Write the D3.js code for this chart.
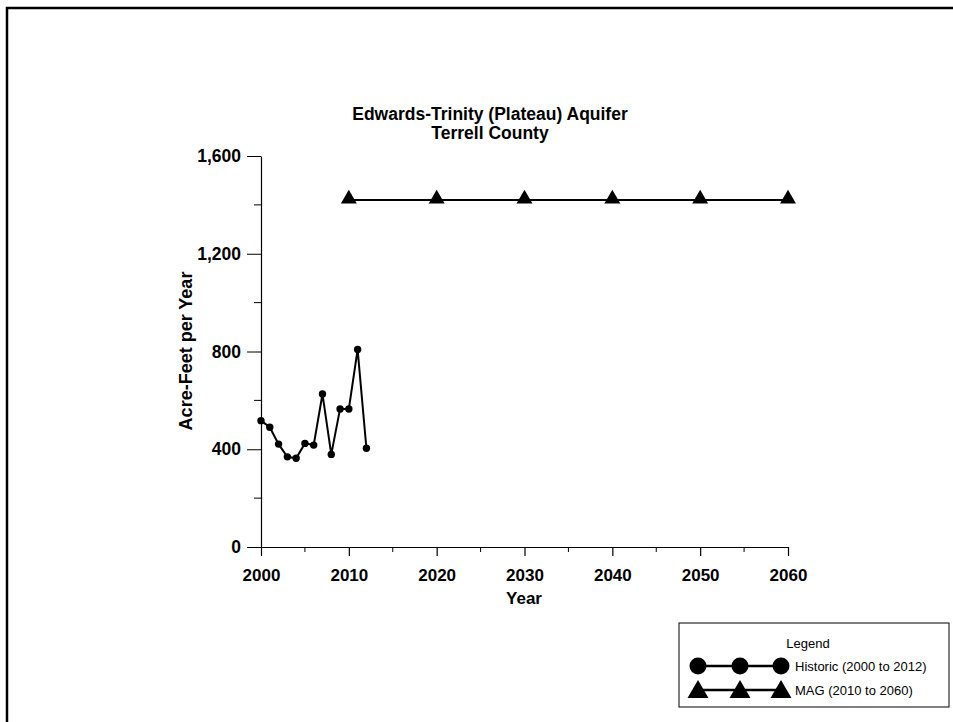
<!DOCTYPE html>
<html><head><meta charset="utf-8">
<script src="https://cdn.jsdelivr.net/npm/d3@7"></script>
<style>html,body{margin:0;background:#fff;overflow:hidden;} svg{display:block;}</style>
</head><body>
<script>
const histYears = [2000,2001,2002,2003,2004,2005,2006,2007,2008,2009,2010,2011,2012];
const histValues = [517,490,421,369,363,424,417,626,379,565,565,808,404];
const magYears = [2010,2020,2030,2040,2050,2060];
const magValues = [1420,1420,1420,1420,1420,1420];
const xTicks = [2000,2010,2020,2030,2040,2050,2060];
const xMinorTicks = [2005,2015,2025,2035,2045,2055];
const yTicks = [0,400,800,1200,1600];
const yMinorTicks = [200,600,1000,1400];
const titleLines = ["Edwards-Trinity (Plateau) Aquifer","Terrell County"];
const legendItems = ["Historic (2000 to 2012)","MAG (2010 to 2060)"];

const W=953,H=722;
const svg=d3.select("body").append("svg").attr("width",W).attr("height",H);
// outer frame: only top and left edges are visible in the window
svg.append("path").attr("d",`M7,${H+5}V8H${W+5}`)
  .attr("fill","none").attr("stroke","#000").attr("stroke-width",2.5);

const font="Liberation Sans, Arial, sans-serif";
const x=d3.scaleLinear().domain([2000,2060]).range([261,788]);
const y=d3.scaleLinear().domain([0,1600]).range([547,156]);

// title (one text element, two lines)
const tt=svg.append("text").attr("text-anchor","middle")
  .attr("font-family",font).attr("font-weight","bold").attr("font-size",17.5);
tt.selectAll("tspan").data(titleLines).join("tspan")
  .attr("x",490).attr("y",(d,i)=>119.5+i*19.5).text(d=>d);

// x axis
const gx=svg.append("g").attr("transform",`translate(0,${y(0)})`);
gx.call(d3.axisBottom(x).tickValues(xTicks).tickFormat(d3.format("d")).tickSize(9).tickSizeOuter(0));
gx.append("g").selectAll("line").data(xMinorTicks).join("line")
  .attr("x1",d=>x(d)).attr("x2",d=>x(d)).attr("y1",0).attr("y2",5).attr("stroke","#000");
gx.select(".domain").attr("stroke-width",1.2);
gx.selectAll(".tick line").attr("stroke-width",1.2);
gx.selectAll(".tick text").attr("font-family",font).attr("font-weight","bold").attr("font-size",17)
  .attr("y",0).attr("dy",0).attr("transform","translate(0,34)");

// y axis
const gy=svg.append("g").attr("transform",`translate(${x(2000)},0)`);
gy.call(d3.axisLeft(y).tickValues(yTicks).tickFormat(d3.format(",")).tickSize(14).tickSizeOuter(0));
gy.append("g").selectAll("line").data(yMinorTicks).join("line")
  .attr("x1",-7).attr("x2",0).attr("y1",d=>y(d)).attr("y2",d=>y(d)).attr("stroke","#000");
gy.select(".domain").attr("stroke-width",1.2);
gy.selectAll(".tick text").attr("font-family",font).attr("font-weight","bold").attr("font-size",17.5).attr("x",-20);

// axis titles
svg.append("text").attr("x",524).attr("y",604).attr("text-anchor","middle")
  .attr("font-family",font).attr("font-weight","bold").attr("font-size",17).text("Year");
svg.append("text").attr("transform","translate(192,351) rotate(-90)").attr("text-anchor","middle")
  .attr("font-family",font).attr("font-weight","bold").attr("font-size",18).text("Acre-Feet per Year");

// historic
const hist=histYears.map((d,i)=>[d,histValues[i]]);
svg.append("path").datum(hist).attr("fill","none").attr("stroke","#000").attr("stroke-width",2)
  .attr("d",d3.line().x(d=>x(d[0])).y(d=>y(d[1])));
svg.append("g").selectAll("circle").data(hist).join("circle")
  .attr("cx",d=>x(d[0])).attr("cy",d=>y(d[1])).attr("r",3.7).attr("fill","#000");

// MAG
const mag=magYears.map((d,i)=>[d,magValues[i]]);
svg.append("path").datum(mag).attr("fill","none").attr("stroke","#000").attr("stroke-width",2)
  .attr("d",d3.line().x(d=>x(d[0])).y(d=>y(d[1])));
const tri=d3.symbol().type(d3.symbolTriangle).size(110);
svg.append("g").selectAll("path").data(mag).join("path")
  .attr("transform",d=>`translate(${x(d[0])},${y(d[1])-1})`).attr("d",tri).attr("fill","#000");

// legend
const lg=svg.append("g");
lg.append("rect").attr("x",679).attr("y",623).attr("width",270).attr("height",84)
  .attr("fill","#fff").attr("stroke","#000").attr("stroke-width",1);
lg.append("text").attr("x",808).attr("y",648).attr("text-anchor","middle")
  .attr("font-family",font).attr("font-size",13).text("Legend");
const lx=[698,740,781];
lg.append("line").attr("x1",lx[0]).attr("x2",lx[2]).attr("y1",666).attr("y2",666).attr("stroke","#000").attr("stroke-width",2.5);
lg.selectAll("circle").data(lx).join("circle").attr("cx",d=>d).attr("cy",666).attr("r",8.5).attr("fill","#000");
lg.append("line").attr("x1",lx[0]).attr("x2",lx[2]).attr("y1",690).attr("y2",690).attr("stroke","#000").attr("stroke-width",2.5);
const tri2=d3.symbol().type(d3.symbolTriangle).size(190);
lg.selectAll("path.t").data(lx).join("path").attr("class","t")
  .attr("transform",d=>`translate(${d},${692})`).attr("d",tri2).attr("fill","#000");
lg.selectAll("text.l").data(legendItems).join("text").attr("class","l")
  .attr("x",795).attr("y",(d,i)=>671+i*24)
  .attr("font-family",font).attr("font-size",13).text(d=>d);
</script>
</body></html>
